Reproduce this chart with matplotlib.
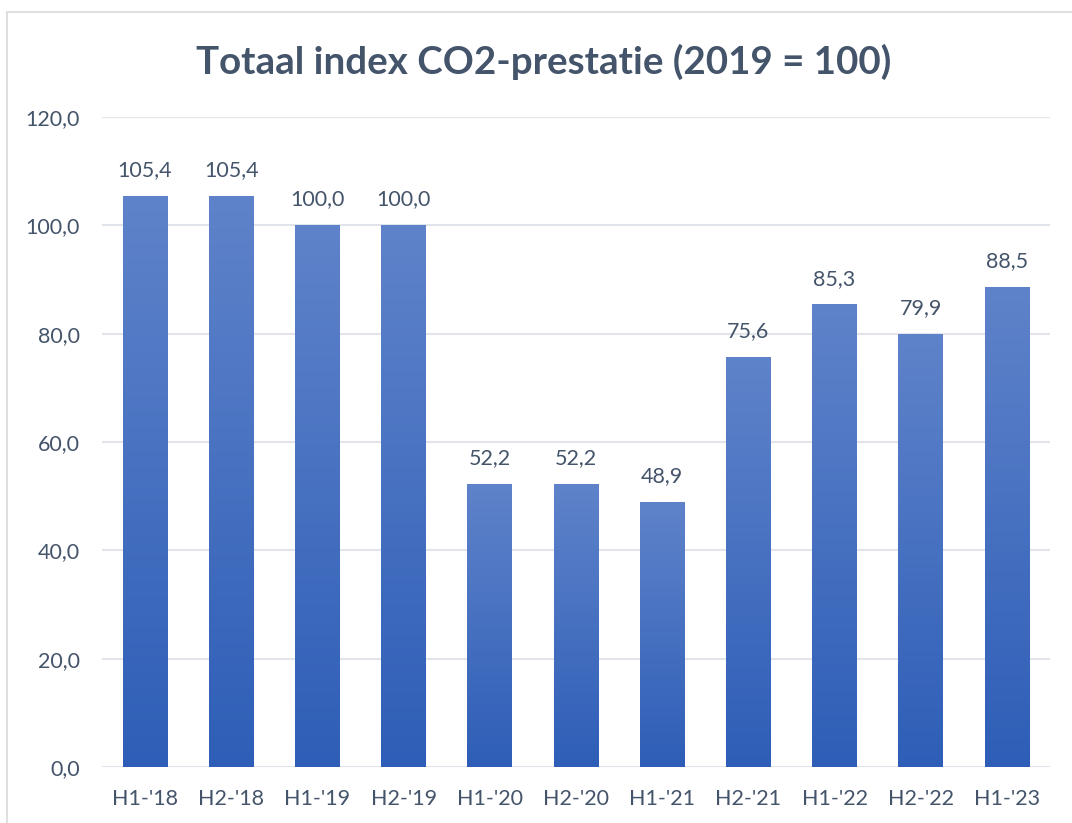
import numpy as np
import matplotlib.pyplot as plt
from matplotlib.colors import LinearSegmentedColormap
from matplotlib.patches import Rectangle

categories = ["H1-'18", "H2-'18", "H1-'19", "H2-'19", "H1-'20", "H2-'20",
              "H1-'21", "H2-'21", "H1-'22", "H2-'22", "H1-'23"]
values = [105.4, 105.4, 100.0, 100.0, 52.2, 52.2, 48.9, 75.6, 85.3, 79.9, 88.5]
yticks = [0, 20, 40, 60, 80, 100, 120]

text_color = "#44546A"
plt.rcParams['font.family'] = ['Lato', 'DejaVu Sans']

fig = plt.figure(figsize=(10.72, 8.23), dpi=100)
ax = fig.add_axes([0.0951, 0.068, 0.8844, 0.7898])

# outer chart border
fig.patches.append(Rectangle((0.0065, -0.01), 1.0, 0.9955, transform=fig.transFigure,
                             fill=False, edgecolor="#D9D9D9", linewidth=1.2))

x = np.arange(len(categories))
bars = ax.bar(x, values, width=0.52, color="none", edgecolor="none", zorder=3)

cmap = LinearSegmentedColormap.from_list("grad", ["#2E5EB7", "#5F83CA"])
grad = np.linspace(0, 1, 256).reshape(-1, 1)
for b in bars:
    x0, w, h = b.get_x(), b.get_width(), b.get_height()
    ax.imshow(grad, cmap=cmap, origin="lower", aspect="auto",
              extent=(x0, x0 + w, 0, h), zorder=3, interpolation="bilinear")

for xi, v in zip(x, values):
    ax.text(xi, v + 3.0, f"{v:.1f}".replace(".", ","), ha="center", va="bottom",
            fontsize=15.5, color=text_color)

ax.set_xlim(-0.5, len(categories) - 0.5)
ax.set_ylim(0, 120)
ax.set_yticks(yticks)
ax.set_yticklabels([f"{t:.1f}".replace(".", ",") for t in yticks])
ax.set_xticks(x)
ax.set_xticklabels(categories)
ax.tick_params(axis="both", length=0, labelsize=15.5, labelcolor=text_color)
ax.tick_params(axis="y", pad=16)
ax.tick_params(axis="x", pad=16)
ax.grid(axis="y", color="#E1E5EB", linewidth=1.5, zorder=0)
ax.set_axisbelow(True)
for s in ax.spines.values():
    s.set_visible(False)

fig.text(0.507, 0.925, "Totaal index CO2-prestatie (2019 = 100)", ha="center", va="center",
         fontsize=27.7, fontweight="bold", color=text_color)

fig.savefig("out.png", dpi=100, facecolor="white")
